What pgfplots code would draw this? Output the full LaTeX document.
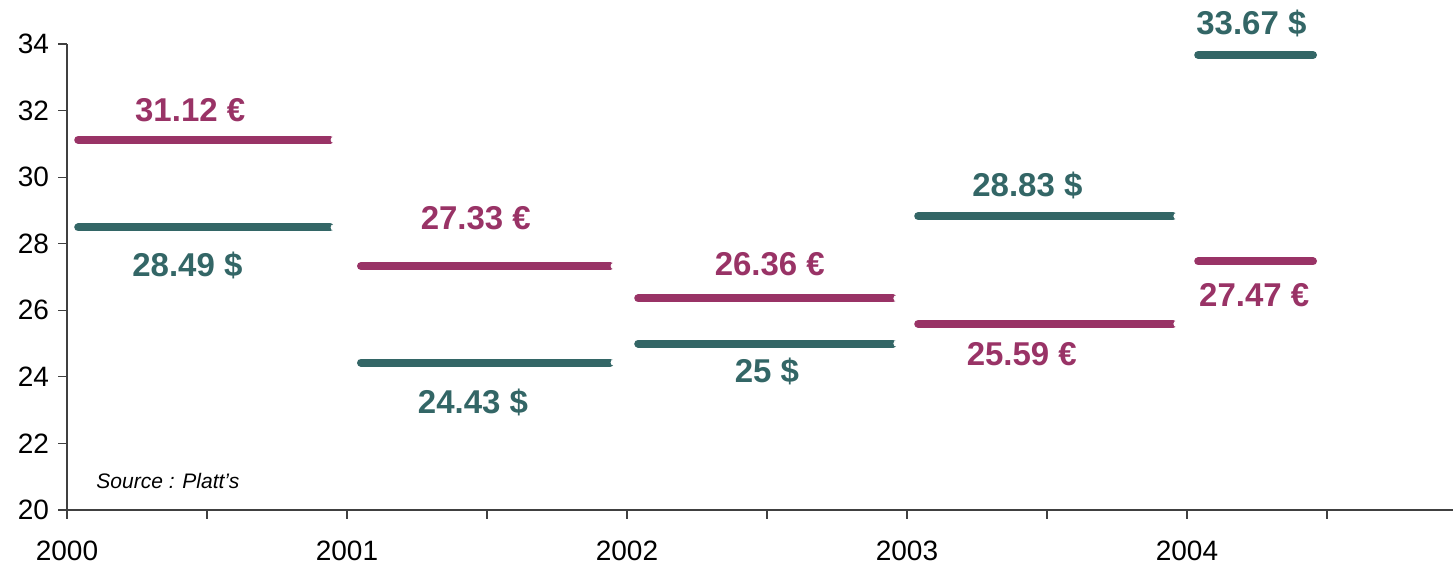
\documentclass[border=0pt]{standalone}
\usepackage{pgfplots}
\pgfplotsset{compat=1.18}
\usepackage{fontspec}
\setmainfont{Liberation Sans}
\definecolor{eurc}{RGB}{153,51,102}
\definecolor{usdc}{RGB}{51,102,102}
\begin{document}
\begin{tikzpicture}
\begin{axis}[
  scale only axis,
  width=693pt, height=233pt,
  xmin=2000, xmax=2004.95,
  ymin=20, ymax=34,
  axis lines*=left,
  axis line style={black!75, line width=0.6pt},
  clip=false,
  tick align=outside,
  major tick length=4.5pt,
  tick style={black!75, line width=0.6pt},
  xtick={2000,2000.5,2001,2001.5,2002,2002.5,2003,2003.5,2004,2004.5},
  xticklabels={2000,,2001,,2002,,2003,,2004,},
  ytick={20,22,...,34},
  /pgf/number format/assume math mode=true,
  /pgf/number format/1000 sep={},
  tick label style={font=\fontsize{14}{16}\selectfont},
  xticklabel style={yshift=-7.5pt},
  yticklabel style={xshift=-1pt},
  unbounded coords=jump,
]
\addplot[eurc, line width=4pt, line cap=round] coordinates {
 (2000.04,31.12) (2000.94,31.12) (2000.99,nan)
 (2001.05,27.33) (2001.94,27.33) (2001.99,nan)
 (2002.04,26.36) (2002.95,26.36) (2002.99,nan)
 (2003.04,25.59) (2003.95,25.59) (2003.99,nan)
 (2004.04,27.47) (2004.45,27.47)
};
\addplot[usdc, line width=4pt, line cap=round] coordinates {
 (2000.04,28.49) (2000.94,28.49) (2000.99,nan)
 (2001.05,24.43) (2001.94,24.43) (2001.99,nan)
 (2002.04,25.00) (2002.95,25.00) (2002.99,nan)
 (2003.04,28.83) (2003.95,28.83) (2003.99,nan)
 (2004.04,33.67) (2004.45,33.67)
};
\addplot[only marks, mark=*, mark size=1.4pt, draw=white, fill=white] coordinates {
 (2000.953,31.12) (2001.953,27.33) (2002.963,26.36) (2003.963,25.59)
 (2000.953,28.49) (2001.953,24.43) (2002.963,25.00) (2003.963,28.83)
};
\begin{scope}[every node/.style={font=\fontsize{16.5}{18}\selectfont\bfseries}]
\node[eurc] at (axis cs:2000.44,32.02) {31.12 €};
\node[usdc] at (axis cs:2000.43,27.36) {28.49 \$};
\node[eurc] at (axis cs:2001.46,28.77) {27.33 €};
\node[usdc] at (axis cs:2001.45,23.22) {24.43 \$};
\node[eurc] at (axis cs:2002.51,27.39) {26.36 €};
\node[usdc] at (axis cs:2002.50,24.15) {25 \$};
\node[usdc] at (axis cs:2003.43,29.76) {28.83 \$};
\node[eurc] at (axis cs:2003.41,24.69) {25.59 €};
\node[usdc] at (axis cs:2004.23,34.63) {33.67 \$};
\node[eurc] at (axis cs:2004.24,26.46) {27.47 €};
\end{scope}
\node[anchor=west, font=\fontsize{10.5}{12}\selectfont\itshape] at (axis cs:2000.08,20.87) {Source : Platt’s};
\end{axis}
\pgfresetboundingbox
\path[use as bounding box] (-33.5pt,-27.5pt) rectangle (693pt,255pt);
\end{tikzpicture}
\end{document}
